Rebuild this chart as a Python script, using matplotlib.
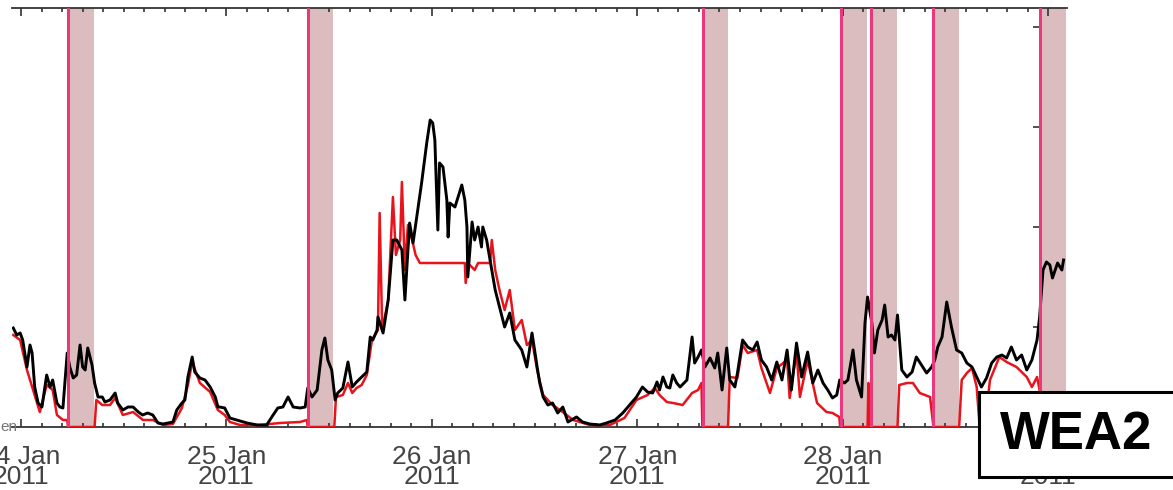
import numpy as np
import pandas as pd
import matplotlib
matplotlib.use('Agg')
import matplotlib.pyplot as plt
import matplotlib.dates as mdates
from matplotlib.patches import Rectangle
from matplotlib.ticker import AutoMinorLocator

plt.rcParams['font.family'] = ['Liberation Sans', 'DejaVu Sans']

# hours since 24 Jan 2011 00:00
black_h = [-0.9, -0.5, -0.1, 0.2, 0.7, 1.05, 1.3, 1.6, 2.0, 2.45, 3.0, 3.4, 3.7, 4.2, 4.55, 4.9,
           5.4, 5.7, 6.1, 6.5, 6.9, 7.2, 7.5, 7.8, 8.3, 8.6, 9.0, 9.5, 9.8, 10.4, 11.0, 11.3,
           11.9, 12.5, 13.1, 13.7, 14.2, 14.8, 15.4, 16.0, 16.6, 17.2, 17.75, 18.2, 18.8, 19.15,
           19.5, 20.0, 20.3, 20.9, 21.5, 22.1, 22.7, 23.0, 23.2, 23.8, 24.4, 25.2, 26.4, 27.6,
           28.7, 29.3, 30.0, 30.6, 31.2, 31.8, 32.6, 33.2, 33.5, 34.0, 34.6, 35.15, 35.5, 35.85,
           36.3, 36.7, 37.0, 37.6, 38.2, 38.7, 39.2, 39.8, 40.4, 40.8, 41.1, 41.6, 41.7, 42.3,
           42.9, 43.45, 43.9, 44.5, 44.85, 45.4, 45.8, 46.4, 46.8, 47.4, 47.8, 48.1, 48.35, 48.7,
           48.9, 49.3, 49.75, 49.9, 50.1, 50.7, 51.5, 51.85, 52.1, 52.2, 52.7, 53.0, 53.4, 53.8,
           53.95, 54.4, 54.8, 55.4, 55.9, 56.5, 57.1, 57.7, 58.5, 59.1, 59.7, 60.3, 60.6, 61.0,
           61.55, 62.1, 62.7, 63.3, 63.9, 64.9, 65.6, 66.45, 67.6, 68.4, 69.4, 70.3, 71.1, 71.9,
           72.6, 73.2, 73.8, 74.3, 74.6, 75.0, 75.45, 75.8, 76.15, 76.6, 77.0, 77.8, 78.4, 78.7,
           79.1, 79.5, 79.9, 80.5, 81.05, 81.4, 81.9, 82.45, 82.8, 83.4, 83.7, 84.3, 84.9, 85.5,
           86.0, 86.5, 87.1, 87.7, 88.3, 88.9, 89.5, 90.0, 90.6, 91.2, 91.9, 92.5, 93.1, 93.7,
           94.25, 94.8, 95.3, 95.65, 96.2, 96.6, 97.2, 97.6, 98.2, 98.6, 98.9, 99.4, 99.7, 100.1,
           100.6, 100.9, 101.3, 101.7, 102.1, 102.4, 102.9, 103.5, 104.1, 104.6, 105.2, 105.8,
           106.4, 106.75, 107.1, 107.6, 108.15, 108.7, 109.3, 109.9, 110.5, 111.1, 111.65, 112.2,
           112.8, 113.4, 114.0, 114.6, 115.15, 115.7, 116.3, 116.9, 117.5, 118.1, 118.7, 119.0,
           119.4, 119.8, 120.2, 120.5, 121.1, 121.6, 121.8]
black_v = [0.99, 0.92, 0.94, 0.87, 0.60, 0.82, 0.74, 0.40, 0.24, 0.20, 0.52, 0.40, 0.47, 0.24, 0.20, 0.19,
           0.74, 0.60, 0.49, 0.52, 0.82, 0.60, 0.57, 0.79, 0.62, 0.44, 0.30, 0.30, 0.25, 0.27, 0.34, 0.24,
           0.17, 0.20, 0.20, 0.15, 0.12, 0.14, 0.12, 0.04, 0.03, 0.04, 0.05, 0.17, 0.24, 0.27,
           0.50, 0.70, 0.55, 0.49, 0.47, 0.40, 0.30, 0.20, 0.20, 0.19, 0.09, 0.07, 0.04, 0.02,
           0.02, 0.10, 0.19, 0.20, 0.30, 0.20, 0.19, 0.20, 0.39, 0.30, 0.37, 0.77, 0.89, 0.67,
           0.57, 0.27, 0.34, 0.39, 0.65, 0.40, 0.45, 0.50, 0.55, 0.90, 0.87, 0.97, 1.10, 0.94,
           1.27, 1.87, 1.87, 1.77, 1.27, 2.04, 1.84, 2.20, 2.44, 2.84, 3.07, 3.04, 2.87, 1.97,
           2.64, 2.60, 2.27, 1.90, 2.24, 2.20, 2.42, 2.27, 2.00, 1.50, 2.05, 1.87, 2.00, 1.80,
           2.00, 1.87, 1.67, 1.37, 1.20, 1.00, 1.14, 0.87, 0.77, 0.60, 0.94, 0.60, 0.44, 0.30,
           0.22, 0.24, 0.14, 0.20, 0.05, 0.10, 0.05, 0.03, 0.02, 0.04, 0.07, 0.14, 0.22, 0.30,
           0.40, 0.35, 0.34, 0.45, 0.37, 0.50, 0.40, 0.39, 0.52, 0.44, 0.40, 0.47, 0.90, 0.64,
           0.70, 0.77, 0.60, 0.69, 0.59, 0.74, 0.37, 0.79, 0.47, 0.40, 0.54, 0.87, 0.80, 0.77,
           0.85, 0.67, 0.60, 0.47, 0.65, 0.47, 0.77, 0.37, 0.84, 0.50, 0.75, 0.44, 0.57, 0.44,
           0.37, 0.29, 0.32, 0.47, 0.44, 0.47, 0.77, 0.47, 0.30, 1.04, 1.30, 1.04, 0.74, 0.97,
           1.07, 1.22, 0.90, 0.92, 0.87, 1.12, 0.57, 0.50, 0.55, 0.70, 0.62, 0.54,
           0.60, 0.67, 0.80, 0.90, 1.25, 1.00, 0.77, 0.74, 0.64, 0.60, 0.50, 0.40,
           0.49, 0.64, 0.70, 0.72, 0.69, 0.80, 0.67, 0.72, 0.57, 0.67, 0.87, 1.10,
           1.57, 1.65, 1.62, 1.49, 1.64, 1.57, 1.67]

red_h = [-0.9, -0.1, 0.7, 1.6, 2.2, 3.0, 3.7, 4.2, 4.9, 5.4, 5.5, 8.6, 8.8, 9.5, 10.4, 11.0,
         11.9, 13.1, 14.25, 15.4, 16.6, 17.75, 18.8, 19.5, 20.0, 20.9, 22.1, 23.0, 23.8, 24.4,
         25.6, 27.9, 30.25, 32.6, 33.4, 33.5, 36.6, 36.8, 37.6, 38.2, 38.7, 39.2, 39.8, 40.4,
         41.0, 41.7, 41.9, 42.2, 42.9, 43.45, 43.8, 44.3, 44.5, 44.85, 45.2, 45.7, 46.1, 46.6,
         51.85, 51.95, 52.2, 53.0, 53.4, 54.8, 55.0, 55.4, 55.9, 56.5, 57.1, 57.7, 58.5, 59.1,
         59.7, 60.3, 61.0, 62.1, 63.3, 64.5, 66.45, 68.8, 70.5, 71.9, 73.2, 74.05, 74.6, 75.45,
         76.15, 77.3, 78.4, 79.1, 79.5, 79.6, 82.6, 82.8, 83.7, 84.3, 84.9, 86.0, 86.5, 87.5,
         88.3, 89.5, 89.8, 90.6, 91.0, 91.9, 93.0, 94.1, 94.8, 95.6, 95.7, 98.9, 99.0, 99.1,
         102.4, 102.6, 103.5, 104.2, 105.0, 106.2, 106.6, 109.6, 109.9, 110.5, 111.1, 111.65,
         112.0, 112.6, 113.2, 114.3, 115.15, 116.3, 117.5, 118.1, 118.7, 119.0, 119.1, 122.2]
red_v = [0.92, 0.87, 0.57, 0.32, 0.15, 0.42, 0.37, 0.12, 0.07, 0.07, 0.0, 0.0, 0.27, 0.22, 0.22, 0.29,
         0.12, 0.15, 0.07, 0.07, 0.02, 0.03, 0.19, 0.42, 0.65, 0.44, 0.35, 0.17, 0.12, 0.05,
         0.02, 0.02, 0.04, 0.05, 0.07, 0.0, 0.0, 0.30, 0.32, 0.44, 0.34, 0.39, 0.42, 0.52,
         0.87, 0.97, 2.14, 0.97, 1.27, 2.30, 1.72, 1.87, 2.45, 1.57, 2.02, 1.87, 1.72, 1.64,
         1.64, 1.44, 1.64, 1.57, 1.64, 1.64, 1.87, 1.57, 1.37, 1.17, 1.37, 0.97, 1.07, 0.82,
         0.87, 0.57, 0.32, 0.22, 0.15, 0.07, 0.02, 0.02, 0.09, 0.27, 0.32, 0.39, 0.32, 0.25,
         0.24, 0.22, 0.34, 0.37, 0.44, 0.0, 0.0, 0.50, 0.49, 0.82, 0.74, 0.77, 0.59, 0.34,
         0.59, 0.67, 0.29, 0.75, 0.30, 0.67, 0.24, 0.15, 0.14, 0.10, 0.0, 0.0, 0.44, 0.0,
         0.0, 0.42, 0.44, 0.44, 0.34, 0.30, 0.0, 0.0, 0.47, 0.54, 0.59, 0.40,
         0.0, 0.0, 0.47, 0.70, 0.65, 0.60, 0.50, 0.40, 0.50, 0.37, 0.0, 0.0]

# flagged periods: start hour, each lasts 3 hours
flag_start = [5.5, 33.5, 79.65, 95.8, 99.3, 106.6, 119.1]
flag_len = 3.0

t0 = pd.Timestamp('2011-01-24 00:00')
def to_t(h):
    return t0 + pd.to_timedelta(np.array(h), unit='h')

fig = plt.figure(figsize=(11.73, 4.9), dpi=100)
ax = fig.add_axes([12/1173, 63/490, 1055/1173, 419/490])

for s in flag_start:
    a, b = to_t([s, s + flag_len])
    ax.axvspan(a, b, color='#dbbdbf', lw=0, zorder=1)
    ax.axvline(a, color='#e8397c', lw=2.2, zorder=5)

ax.plot(to_t(red_h), red_v, color='#e8141c', lw=1.8, zorder=3)
ax.plot(to_t(black_h), black_v, color='black', lw=2.1, zorder=4)

ax.set_xlim(to_t([-1.05, 122.2]))
ax.set_ylim(0, 4.19)

ax.xaxis.set_major_locator(mdates.DayLocator())
ax.xaxis.set_major_formatter(mdates.DateFormatter('%d %b\n%Y'))
ax.xaxis.set_minor_locator(AutoMinorLocator(10))
ax.tick_params(axis='x', which='both', direction='in', top=True, bottom=True,
               colors='#333333', labelsize=19, pad=13)
ax.tick_params(axis='x', which='major', length=6, width=1.2)
ax.tick_params(axis='x', which='minor', length=3, width=1.2)
for lab in ax.get_xticklabels():
    lab.set_linespacing(0.8)
    lab.set_color('#444444')

ax.spines['left'].set_visible(False)
ax.spines['right'].set_position(('data', mdates.date2num(to_t([119.1])[0])))
ax.spines['right'].set_color('#e8397c')
ax.spines['top'].set_color('#333333')
ax.spines['bottom'].set_color('#333333')
ax.spines['top'].set_linewidth(1.3)
ax.spines['bottom'].set_linewidth(1.3)
ax.yaxis.tick_right()
ax.set_yticks([1, 2, 3, 4])
ax.tick_params(axis='y', direction='in', length=5, width=1.2, colors='#333333',
               labelright=False, left=False)

fig.text(0.0, 63/490, 'en', fontsize=11, color='#777777', ha='left', va='center')

box = Rectangle((979/1173, 13/490), 200/1173, 85/490, transform=fig.transFigure,
                facecolor='white', edgecolor='black', lw=2.2, zorder=10)
fig.add_artist(box)
fig.text(1076/1173, 55/490, 'WEA2', fontsize=38, fontweight='bold', ha='center',
         va='center', zorder=11)

fig.savefig('out.png', dpi=100)
